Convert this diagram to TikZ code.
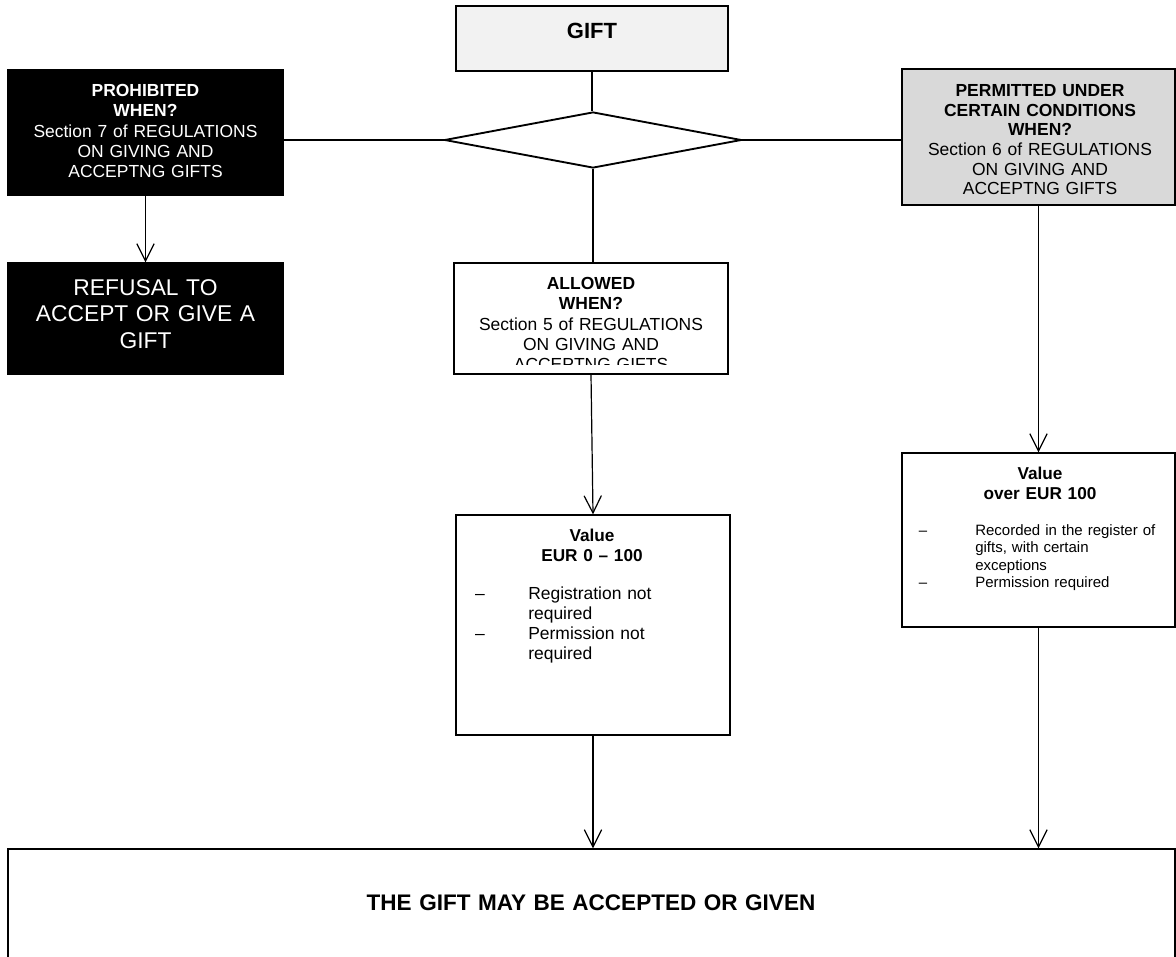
\documentclass[tikz,border=0pt]{standalone}
\usepackage{fontspec}
\setmainfont{Liberation Sans}
\usetikzlibrary{arrows.meta,shapes.geometric}
\definecolor{giftgray}{HTML}{F2F2F2}
\definecolor{permgray}{HTML}{D9D9D9}
\begin{document}
\begin{tikzpicture}[x=0.75pt,y=-0.75pt,
  box/.style={draw=black,line width=1pt,rectangle,inner sep=0pt},
  link/.style={line width=0.9pt},
  arr/.style={line width=0.9pt,-{Straight Barb[length=13pt,width=13pt]}},
  txt/.style={inner sep=0pt,anchor=base,align=center,text width=200pt},
  ltxt/.style={inner sep=0pt,anchor=base west,align=left,text width=150pt},
  fmain/.style={font=\fontsize{13.1pt}{15.2pt}\selectfont},
  fsmall/.style={font=\fontsize{11.25pt}{13pt}\selectfont},
]
\useasboundingbox (0,0) rectangle (1176,956);

% boxes
\node[box,fill=giftgray,minimum width=204pt,minimum height=48.75pt] (gift) at (592,38.5) {};
\node[draw=black,line width=1.4pt,fill=white,shape=diamond,inner sep=0pt,
      minimum width=222.75pt,minimum height=42pt] (dia) at (593,140) {};
\node[box,fill=black,minimum width=206.25pt,minimum height=93.75pt] (proh) at (145.5,132.5) {};
\node[box,fill=black,minimum width=206.25pt,minimum height=83.25pt] (refu) at (145.5,318.5) {};
\node[box,fill=permgray,minimum width=204.75pt,minimum height=102pt] (perm) at (1038.5,137) {};
\node[box,fill=white,minimum width=205.5pt,minimum height=83.25pt] (allow) at (591,318.5) {};
\node[box,fill=white,minimum width=205.5pt,minimum height=165pt] (val1) at (593,625) {};
\node[box,fill=white,minimum width=204.75pt,minimum height=130.5pt] (val2) at (1038.5,540) {};
\node[box,fill=white,minimum width=875.25pt,minimum height=84.75pt] (fin) at (591.5,905.5) {};

% texts
\node[txt,font=\fontsize{16.5pt}{19pt}\selectfont\bfseries] (gifttxt) at (592,38.3) {GIFT};
\node[txt,fmain,text=white] (prohtxt) at (145.5,96.5)
  {\textbf{PROHIBITED}\\\textbf{WHEN?}\\Section 7 of REGULATIONS\\ON GIVING AND\\ACCEPTNG GIFTS};
\node[txt,text=white,font=\fontsize{17.1pt}{19.9pt}\selectfont] (refutxt) at (145.5,295)
  {REFUSAL TO\\ACCEPT OR GIVE A\\GIFT};
\node[txt,font=\fontsize{13.1pt}{14.8pt}\selectfont] (permtxt) at (1040,96.3)
  {\textbf{PERMITTED UNDER}\\\textbf{CERTAIN CONDITIONS}\\\textbf{WHEN?}\\Section 6 of REGULATIONS\\ON GIVING AND\\ACCEPTNG GIFTS};
\begin{scope}
  \clip (454,263) rectangle (728,364.5);
  \node[txt,fmain] (allowtxt) at (591,289.5)
    {\textbf{ALLOWED}\\\textbf{WHEN?}\\Section 5 of REGULATIONS\\ON GIVING AND\\ACCEPTNG GIFTS};
\end{scope}

\node[txt,font=\fontsize{12.9pt}{15pt}\selectfont\bfseries] (v1head) at (592,541.3) {Value\\EUR 0 -- 100};
\node[inner sep=0pt,anchor=base,fmain] (v1d1) at (480,599) {--};
\node[ltxt,fmain] (v1t1) at (528,599) {Registration not\\required};
\node[inner sep=0pt,anchor=base,fmain] (v1d2) at (480,639) {--};
\node[ltxt,fmain] (v1t2) at (528,639) {Permission not\\required};

\node[txt,font=\fontsize{12.9pt}{15pt}\selectfont\bfseries] (v2head) at (1040,479) {Value\\over EUR 100};
\node[inner sep=0pt,anchor=base,fsmall] (v2d1) at (923,535.5) {--};
\node[ltxt,fsmall] (v2t1) at (975,535.5) {Recorded in the register of\\gifts, with certain\\exceptions};
\node[inner sep=0pt,anchor=base,fsmall] (v2d2) at (923,587.4) {--};
\node[ltxt,fsmall] (v2t2) at (975,587.4) {Permission required};

\node[txt,text width=700pt,font=\fontsize{16.9pt}{19pt}\selectfont\bfseries] (fintxt) at (591,910)
  {THE GIFT MAY BE ACCEPTED OR GIVEN};

% connectors
\draw[link] (gift.south) -- (gift.south |- dia.north);
\draw[link] (dia.west) -- (dia.west -| proh.east);
\draw[link] (dia.east) -- (dia.east -| perm.west);
\draw[link] (dia.south) -- (dia.south |- allow.north);
\draw[arr] (proh.south) -- (refu.north);
\draw[arr] (allow.south) -- (val1.north);
\draw[arr] (perm.south) -- (perm.south |- val2.north);
\draw[arr] (val1.south) -- (val1.south |- fin.north);
\draw[arr] (val2.south) -- (val2.south |- fin.north);
\end{tikzpicture}
\end{document}
